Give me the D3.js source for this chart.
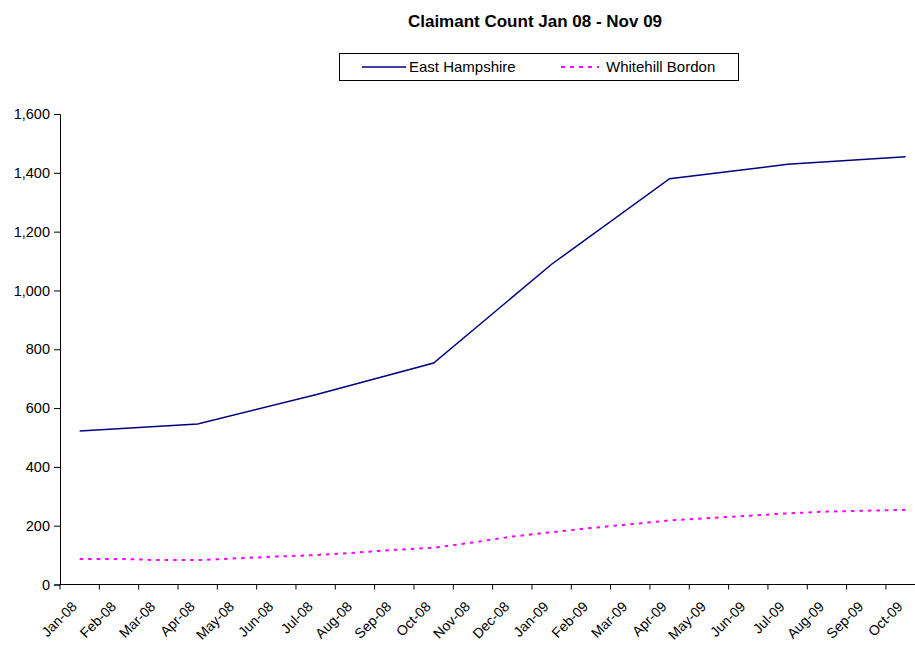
<!DOCTYPE html>
<html>
<head>
<meta charset="utf-8">
<script src="https://cdn.jsdelivr.net/npm/d3@7"></script>
<style>
  html, body { margin: 0; padding: 0; background: #fff; }
  svg { display: block; font-family: "Liberation Sans", Arial, sans-serif; }
</style>
</head>
<body>
<svg id="chart" width="915" height="646"></svg>
<script>
// Monthly categories on the x axis
const months = ["Jan-08","Feb-08","Mar-08","Apr-08","May-08","Jun-08","Jul-08","Aug-08",
                "Sep-08","Oct-08","Nov-08","Dec-08","Jan-09","Feb-09","Mar-09","Apr-09",
                "May-09","Jun-09","Jul-09","Aug-09","Sep-09","Oct-09"];

// East Hampshire: quarterly counts (null where no figure is recorded)
const eastHampshire = [522, null, null, 546, null, null, 645, null, null, 753, null, null,
                       1089, null, null, 1380, null, null, 1429, null, null, 1455];

// Whitehill Bordon: monthly counts
const whitehillBordon = [87, 87, 83, 83, 89, 95, 100, 108, 118, 125, 143, 163,
                         178, 192, 205, 218, 226, 234, 242, 248, 251, 254];

const yTicks = [0, 200, 400, 600, 800, 1000, 1200, 1400, 1600];

const seriesNames = ["East Hampshire", "Whitehill Bordon"];

const svg = d3.select("#chart");

const left = 60, step = 39.33;
const x = d3.scaleBand().domain(months).range([left, left + step * months.length]).padding(0);
const y = d3.scaleLinear().domain([0, 1600]).range([584.5, 114]);
const cx = m => x(m) + x.bandwidth() / 2;

// Title
svg.append("text")
  .attr("x", 535).attr("y", 27)
  .attr("text-anchor", "middle")
  .attr("font-size", 17).attr("font-weight", "bold")
  .text("Claimant Count Jan 08 - Nov 09");

// Y axis
const yAxis = svg.append("g")
  .attr("transform", `translate(${left},0)`)
  .call(d3.axisLeft(y).tickValues(yTicks).tickFormat(d3.format(",")).tickSize(6).tickPadding(4));
yAxis.select(".domain").attr("stroke", "#000");
yAxis.selectAll(".tick line").attr("stroke", "#000");
yAxis.selectAll("text").attr("font-size", 14.5).attr("fill", "#000")
  .attr("font-family", "Liberation Sans, Arial, sans-serif");

// X axis: baseline, ticks between categories, rotated labels at category centres
const xg = svg.append("g");
xg.append("line")
  .attr("x1", left).attr("x2", left + step * months.length)
  .attr("y1", y(0)).attr("y2", y(0))
  .attr("stroke", "#000");
const boundaries = months.map(m => x(m)).concat([x.range()[1]]);
xg.selectAll("line.tick").data(boundaries).join("line")
  .attr("class", "tick")
  .attr("x1", d => d).attr("x2", d => d)
  .attr("y1", y(0)).attr("y2", y(0) + 5)
  .attr("stroke", "#000");
xg.selectAll("text").data(months).join("text")
  .attr("text-anchor", "end")
  .attr("font-size", 14)
  .attr("transform", d => `translate(${cx(d) - 2},${y(0) + 23}) rotate(-45)`)
  .text(d => d);

// Lines
const line = d3.line().x(d => cx(d.m)).y(d => y(d.v));

const ehPts = months.map((m, i) => ({ m, v: eastHampshire[i] })).filter(d => d.v !== null);
const wbPts = months.map((m, i) => ({ m, v: whitehillBordon[i] }));

svg.append("path")
  .datum(ehPts)
  .attr("d", line)
  .attr("fill", "none")
  .attr("stroke", "#000080")
  .attr("stroke-width", 1.5);

svg.append("path")
  .datum(wbPts)
  .attr("d", line)
  .attr("fill", "none")
  .attr("stroke", "#FF00FF")
  .attr("stroke-width", 2)
  .attr("stroke-dasharray", "3.5,5");

// Legend
const lg = svg.append("g");
lg.append("rect")
  .attr("x", 339.5).attr("y", 53.5).attr("width", 399).attr("height", 27)
  .attr("fill", "#fff").attr("stroke", "#000").attr("stroke-width", 1);
lg.append("line")
  .attr("x1", 362).attr("x2", 406).attr("y1", 67).attr("y2", 67)
  .attr("stroke", "#000080").attr("stroke-width", 1.5);
lg.append("text")
  .attr("x", 409).attr("y", 72).attr("font-size", 15)
  .text(seriesNames[0]);
lg.append("line")
  .attr("x1", 561).attr("x2", 599).attr("y1", 67).attr("y2", 67)
  .attr("stroke", "#FF00FF").attr("stroke-width", 2).attr("stroke-dasharray", "4,5");
lg.append("text")
  .attr("x", 606).attr("y", 72).attr("font-size", 15)
  .text(seriesNames[1]);
</script>
</body>
</html>
